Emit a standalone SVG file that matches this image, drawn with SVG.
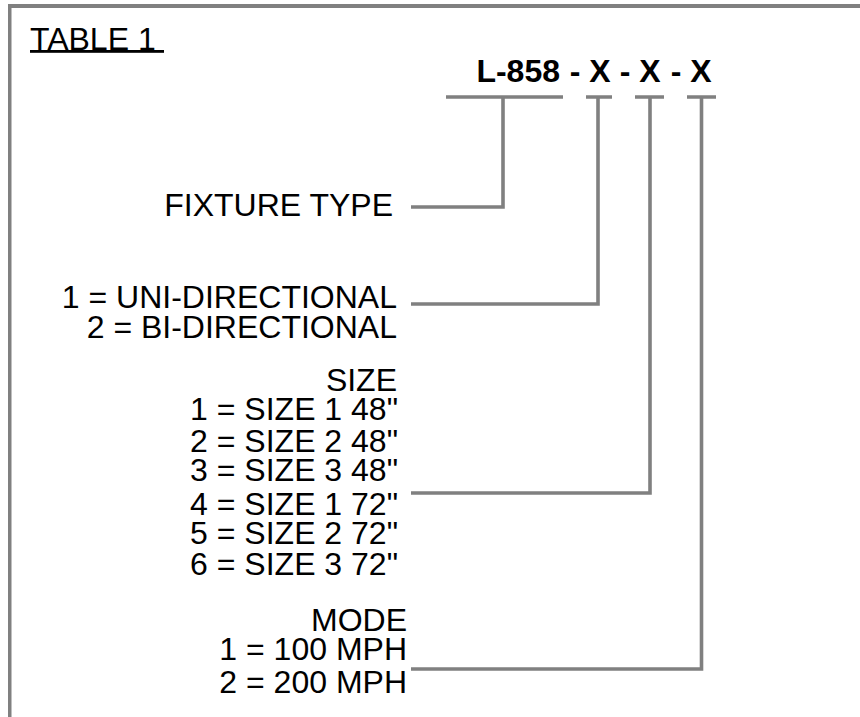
<svg xmlns="http://www.w3.org/2000/svg" width="860" height="717" viewBox="0 0 860 717">
<style>
.t{font-family:"Liberation Sans",Arial,sans-serif;font-size:32px;fill:#000;text-anchor:end}
.b{font-weight:bold}
.c{fill:none;stroke:#808080;stroke-width:3.6}
.frame{fill:#808080}
</style>
<rect width="860" height="717" fill="#fff"/>
<g id="frame">
<rect class="frame" x="8" y="4" width="852" height="4"/>
<rect class="frame" x="8" y="4" width="3.5" height="713"/>
</g>
<g id="title">
<text class="t" x="30" y="49.5" style="text-anchor:start">TABLE 1</text>
<rect x="30" y="50" width="134" height="2.8" fill="#000"/>
</g>
<g id="code">
<text class="t b" x="560" y="82">L-858</text>
<text class="t b" x="575" y="82" style="text-anchor:middle">-</text>
<text class="t b" x="600" y="82" style="text-anchor:middle">X</text>
<text class="t b" x="625" y="82" style="text-anchor:middle">-</text>
<text class="t b" x="650" y="82" style="text-anchor:middle">X</text>
<text class="t b" x="676" y="82" style="text-anchor:middle">-</text>
<text class="t b" x="701" y="82" style="text-anchor:middle">X</text>
</g>
<g id="connectors">
<path class="c" d="M446 97H563M503 97V207H411"/>
<path class="c" d="M586 97H612M598 97V304H411"/>
<path class="c" d="M635 97H664M650 97V493H411"/>
<path class="c" d="M687 97H716M701.5 97V669H411"/>
</g>
<g id="fixture-type">
<text class="t" x="393" y="216">FIXTURE TYPE</text>
</g>
<g id="direction">
<text class="t" x="397" y="308">1 = UNI-DIRECTIONAL</text>
<text class="t" x="397" y="338">2 = BI-DIRECTIONAL</text>
</g>
<g id="size">
<text class="t" x="397" y="391">SIZE</text>
<text class="t" x="398" y="420">1 = SIZE 1 48"</text>
<text class="t" x="398" y="452">2 = SIZE 2 48"</text>
<text class="t" x="398" y="481">3 = SIZE 3 48"</text>
<text class="t" x="398" y="515">4 = SIZE 1 72"</text>
<text class="t" x="398" y="544">5 = SIZE 2 72"</text>
<text class="t" x="398" y="575">6 = SIZE 3 72"</text>
</g>
<g id="mode">
<text class="t" x="407" y="631">MODE</text>
<text class="t" x="407" y="660">1 = 100 MPH</text>
<text class="t" x="407" y="693">2 = 200 MPH</text>
</g>
</svg>
